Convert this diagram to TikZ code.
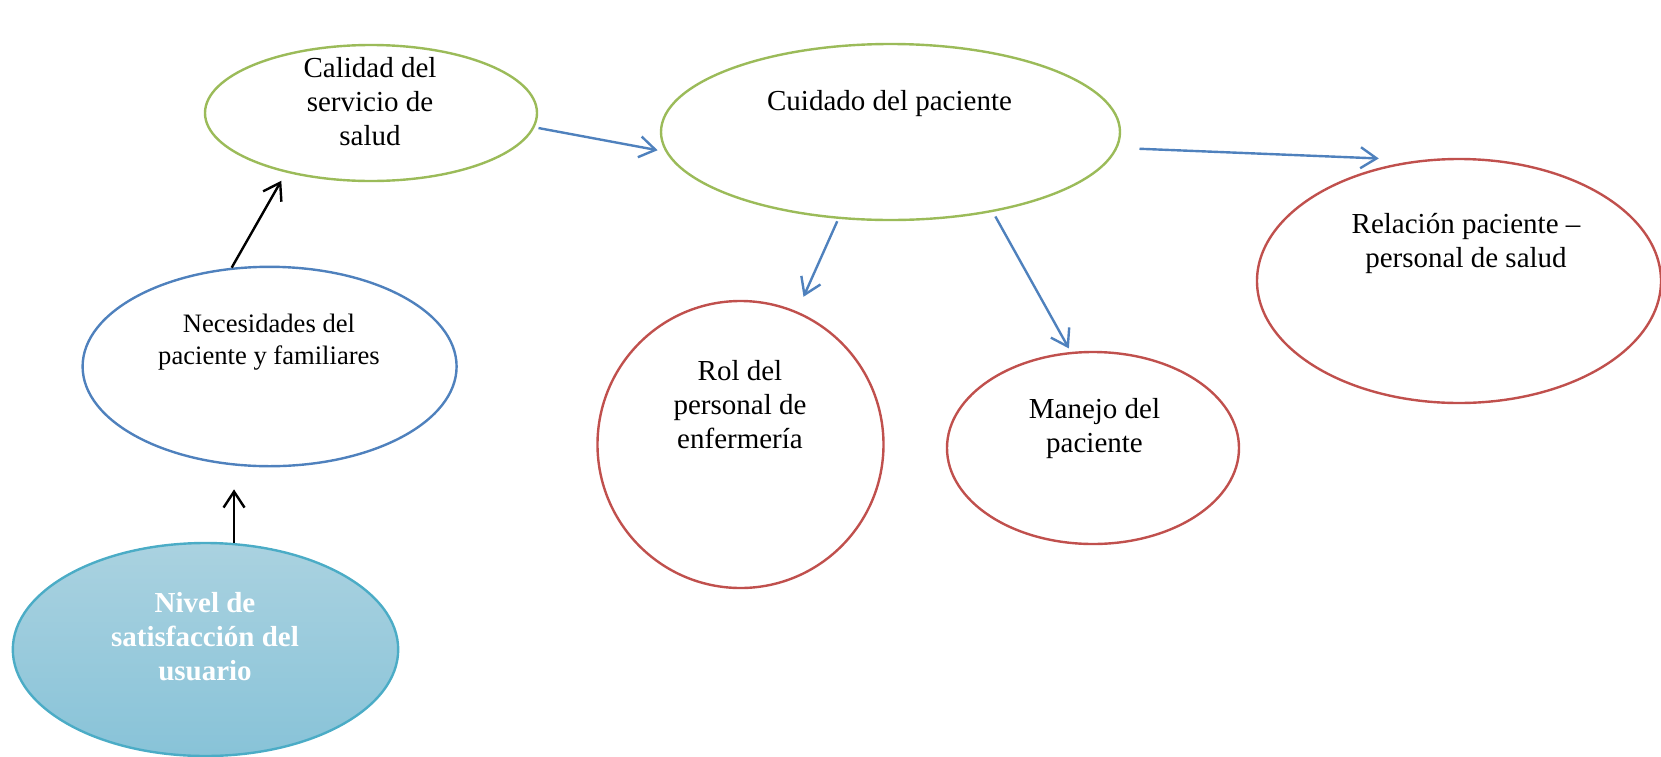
\documentclass[tikz,border=0pt]{standalone}
\usepackage{fontspec}
\setmainfont{Liberation Serif}
\usetikzlibrary{shapes.geometric,arrows.meta}
\definecolor{verde}{RGB}{155,187,89}
\definecolor{azul}{RGB}{79,129,189}
\definecolor{rojo}{RGB}{192,80,77}
\definecolor{celeste}{RGB}{75,172,198}
\definecolor{celestearriba}{RGB}{170,210,224}
\definecolor{celesteabajo}{RGB}{136,195,216}
\tikzset{
  elipse/.style={ellipse, line width=1.2pt, inner sep=0pt},
  texto/.style={anchor=north, align=center, inner sep=0pt, font=\fontsize{14.5}{16.9}\selectfont},
  flecha/.style={line width=1.2pt, -{Straight Barb[length=8pt,width=10.5pt]}},
}
\newcommand{\elipse}[6]{\node[elipse,#2,minimum width=#5pt,minimum height=#6pt] (#1) at (#3,#4) {};}

\begin{document}
\begin{tikzpicture}[x=0.5pt,y=-0.5pt]
\useasboundingbox (0,0) rectangle (1661,756);
\elipse{cal}{draw=verde}{371}{113}{166}{68}\elipse{cui}{draw=verde}{890.5}{132}{229.5}{88}\elipse{rel}{draw=rojo}{1459}{281}{202}{122}
\elipse{nec}{draw=azul}{269.6}{366.5}{187}{99.7}\elipse{rol}{draw=rojo}{740.5}{444.5}{143}{143.5}\elipse{man}{draw=rojo}{1093}{448}{146}{96}
\elipse{niv}{draw=celeste,top color=celestearriba,bottom color=celesteabajo}{205.5}{649.5}{192.7}{106.5}
\node[texto] (calT) at (370,57.2) {Calidad del\\servicio de\\salud};
\node[texto] (cuiT) at (889.5,90.2) {Cuidado del paciente};
\node[texto] (relT) at (1466,213.2) {Relación paciente –\\personal de salud};
\node[texto,font=\fontsize{13.3}{16}\selectfont] (necT) at (269,313.8) {Necesidades del\\paciente y familiares};
\node[texto,text=white,font=\fontsize{14.5}{16.9}\selectfont\bfseries] (nivT) at (205,592.4) {Nivel de\\satisfacción del\\usuario};
\node[texto] (rolT) at (740,360.2) {Rol del\\personal de\\enfermería};
\node[texto] (manT) at (1094.5,398.2) {Manejo del\\paciente};
\draw[flecha,shorten >=11pt] (niv.75) -- (niv.75 |- nec.south);
\draw[flecha,shorten >=4.7pt] (nec.111) -- (cal.215);
\draw[flecha,azul,shorten <=2pt,shorten >=4pt] (cal.-5) -- (cui.185);
\draw[flecha,azul,shorten <=1.3pt,shorten >=8pt] (cui.-121.5) -- (rol.67.4);
\draw[flecha,azul,shorten <=2.6pt,shorten >=2pt] (cui.-38.9) -- (man.103.75);
\draw[flecha,azul,shorten <=11pt,shorten >=20.5pt] (cui.-4.8) -- (rel.108.5);
\end{tikzpicture}
\end{document}
